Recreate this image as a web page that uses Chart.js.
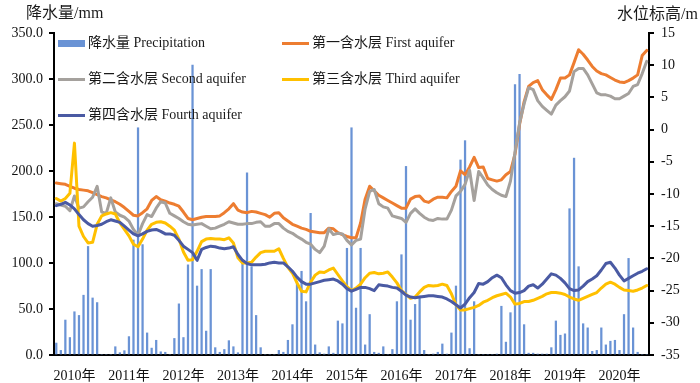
<!DOCTYPE html>
<html>
<head>
<meta charset="utf-8">
<script src="https://cdn.jsdelivr.net/npm/chart.js@4.4.1/dist/chart.umd.min.js"></script>
<style>
  html, body { margin: 0; padding: 0; background: #fff; }
  #wrap { position: relative; width: 700px; height: 383px; font-family: 'Liberation Serif', 'Noto Sans CJK SC', serif; color: #1a1a1a; }
  #c { position: absolute; left: 0; top: 0; }
  .ttl { position: absolute; font-size: 16px; line-height: 18px; white-space: nowrap; }
  .lg { position: absolute; font-size: 14px; line-height: 16px; white-space: nowrap; display: flex; align-items: center; }
  .sw { display: inline-block; width: 27px; margin-right: 3px; }
</style>
</head>
<body>
<div id="wrap">
  <canvas id="c" width="700" height="383"></canvas>
  <div class="ttl" style="left:26px; top:4px;">降水量/mm</div>
  <div class="ttl" style="right:2px; top:5px;">水位标高/m</div>
  <div id="legend"></div>
</div>
<script>
// ---- data (monthly, Jan 2010 – Nov 2020) ----
const years = ['2010', '2011', '2012', '2013', '2014', '2015', '2016', '2017', '2018', '2019', '2020'];
const yearLabels = ['2010年', '2011年', '2012年', '2013年', '2014年', '2015年', '2016年', '2017年', '2018年', '2019年', '2020年'];
const monthCount = 131;

const precipitation = [
  13, 5, 38, 19, 47, 43, 65, 118, 62, 57, 0, 0,
  0, 9, 2.5, 4.7, 20, 125, 247, 120, 24, 7.5, 16, 3.5,
  3, 0, 18, 55.6, 19, 98, 315, 75, 93, 26, 93, 8,
  3, 6, 15.6, 9, 2.5, 100, 198, 96, 43, 8, 0, 0,
  0, 5, 3, 16, 33, 80, 91, 58, 154, 11, 2.5, 1,
  9, 2, 37, 34, 116, 247, 51, 116, 11, 44, 3, 2,
  9, 0, 6, 58, 109, 205, 38, 55, 64, 5, 0, 1,
  3, 12, 1, 24, 75, 212, 233, 7, 58, 0, 0, 0,
  0, 1, 53, 14, 46, 294, 305, 33, 2, 2, 1, 1,
  1, 8, 37, 21.5, 23, 159, 214, 96, 34, 29.5, 4, 5,
  29.5, 11, 15, 16, 5, 44, 105, 29.5, 3, 0, 0
];

const firstAquifer = [
  -8.3, -8.4, -8.5, -8.8, -9.1, -9.3, -9.4, -9.5, -9.8, -10.1, -10.4, -10.6,
  -10.9, -11.2, -11.6, -12.1, -12.7, -13.3, -13.4, -12.9, -12.3, -11.0, -10.4, -10.9,
  -11.1, -11.4, -11.6, -11.9, -12.8, -13.8, -14.0, -13.8, -13.6, -13.5, -13.5, -13.5,
  -13.4, -12.9, -12.3, -11.5, -12.5, -12.8, -12.9, -12.7, -12.8, -13.0, -13.2, -13.6,
  -13.0, -12.9, -13.7, -14.2, -14.7, -15.0, -15.3, -15.5, -15.8, -15.9, -16.0, -16.0,
  -15.3, -15.4, -16.0, -16.3, -16.6, -16.8, -16.8, -14.5, -10.8, -8.8, -9.5, -10.2,
  -10.6, -11.0, -11.4, -11.8, -12.2, -12.2, -10.8, -10.4, -10.3, -11.1, -11.3, -10.8,
  -10.5, -10.5, -10.6, -9.6, -8.8, -6.4, -7.0, -5.8, -4.3, -5.9, -5.8, -7.6,
  -7.8, -8.0, -7.8, -7.0, -6.5, -3.8, 0.8, 4.3, 6.7, 7.3, 7.6, 6.2,
  5.4, 4.7, 6.2, 8.0, 8.0, 8.5, 10.4, 12.4, 11.7, 10.8, 9.8, 9.1,
  8.7, 8.5, 8.1, 7.7, 7.4, 7.3, 7.6, 8.0, 8.5, 11.5, 12.3
];

const secondAquifer = [
  -11.5, -11.7, -11.9, -12.6, -10.3, -12.2, -12.0, -11.2, -10.5, -8.8, -12.8, -13.0,
  -10.6, -12.8, -13.3, -13.6, -14.2, -15.5, -16.4, -14.6, -13.2, -13.5, -12.2, -11.2,
  -11.4, -13.0, -13.4, -13.8, -14.3, -14.7, -14.8, -14.7, -14.6, -15.0, -15.4, -15.3,
  -15.0, -14.7, -14.3, -14.5, -14.7, -14.7, -14.6, -14.6, -14.4, -14.3, -15.0, -15.0,
  -14.6, -14.6, -15.3, -15.8, -16.1, -16.6, -17.0, -17.5, -17.8, -18.6, -19.1, -18.1,
  -15.4, -16.3, -16.1, -16.2, -17.2, -17.9, -17.2, -17.0, -12.3, -9.6, -9.3, -11.5,
  -12.0, -12.2, -13.4, -13.6, -13.8, -14.4, -13.0, -12.3, -13.0, -13.6, -14.0, -14.1,
  -13.8, -13.9, -13.9, -12.5, -10.3, -9.6, -8.5, -6.3, -11.0, -6.5, -7.5, -8.6,
  -9.3, -9.8, -10.2, -10.4, -8.0, -3.5, 1.0, 4.0, 6.5, 6.2, 4.5, 3.6,
  3.0, 2.4, 3.8, 4.5, 5.1, 6.0, 9.0, 9.5, 9.5, 8.5, 7.1, 5.7,
  5.4, 5.4, 5.2, 4.8, 4.8, 5.2, 5.6, 6.7, 7.0, 8.7, 10.6
];

const thirdAquifer = [
  -10.7, -11.1, -10.7, -9.9, -2.1, -15.0, -16.6, -17.6, -17.5, -14.7, -13.4, -13.1,
  -12.9, -13.1, -14.5, -15.5, -16.5, -17.8, -18.2, -17.0, -15.6, -14.7, -14.4, -14.3,
  -14.5, -15.0, -15.6, -17.0, -19.0, -20.3, -20.2, -18.9, -17.4, -17.0, -16.9, -17.0,
  -17.0, -17.1, -16.8, -17.6, -19.9, -20.7, -20.7, -20.6, -19.8, -19.1, -18.9, -18.9,
  -18.9, -18.5, -20.0, -21.4, -22.3, -23.8, -25.1, -25.2, -23.7, -22.6, -22.1, -22.2,
  -21.8, -21.5, -22.5, -23.5, -24.4, -25.0, -24.6, -24.0, -23.0, -22.3, -22.2, -22.4,
  -22.3, -22.1, -22.9, -23.8, -25.0, -25.6, -26.2, -26.0, -25.2, -24.5, -24.2, -24.3,
  -24.2, -24.0, -24.2, -25.5, -27.2, -28.0, -28.0, -27.8, -27.6, -27.3, -26.8, -26.5,
  -26.1, -25.8, -25.6, -25.4, -26.0, -27.1, -27.0, -26.7, -26.7, -26.5, -26.2, -25.9,
  -25.5, -25.3, -25.3, -25.4, -25.6, -26.0, -26.3, -26.5, -26.2, -25.9, -25.6, -25.3,
  -24.6, -24.0, -23.7, -24.0, -24.5, -24.9, -25.0, -25.1, -24.9, -24.6, -24.2
];

const fourthAquifer = [
  -11.8, -11.6, -11.3, -11.7, -12.3, -13.2, -14.0, -14.6, -15.0, -14.9, -14.7, -14.3,
  -14.0, -14.2, -14.4, -15.0, -15.6, -16.2, -16.5, -16.2, -15.8, -15.6, -15.5, -15.8,
  -16.2, -16.2, -16.4, -17.2, -18.1, -18.6, -19.1, -20.3, -18.6, -18.3, -18.1, -18.2,
  -18.4, -18.5, -18.4, -18.2, -19.4, -20.3, -20.8, -21.0, -21.0, -21.0, -20.9, -20.7,
  -20.6, -20.7, -20.7, -21.3, -22.0, -22.9, -23.6, -24.0, -24.0, -23.8, -23.6, -23.4,
  -23.3, -23.2, -23.5, -24.0, -24.7, -25.1, -24.8, -24.5, -24.5, -24.7, -25.0, -24.1,
  -24.2, -24.3, -24.5, -24.6, -25.1, -25.7, -26.0, -26.1, -26.0, -25.9, -25.8, -25.8,
  -25.9, -26.0, -26.3, -26.7, -27.2, -27.7, -27.1, -26.1, -25.3, -23.9, -24.0, -23.6,
  -23.0, -22.6, -23.0, -24.1, -25.0, -25.4, -25.3, -25.0, -24.3, -24.1, -24.6, -24.0,
  -23.2, -22.4, -22.6, -23.1, -23.8, -24.7, -25.0, -24.9, -24.3, -23.6, -23.2, -22.7,
  -21.8, -20.8, -20.6, -21.5, -22.6, -23.5, -23.1, -22.7, -22.3, -22.0, -21.6
];

// category labels: one per month
const monthLabels = [];
for (let i = 0; i < monthCount; i++) {
  monthLabels.push(years[Math.floor(i / 12)] + '-' + String(i % 12 + 1).padStart(2, '0'));
}

const FONT = "'Liberation Serif', 'Noto Sans CJK SC', serif";
Chart.defaults.font.family = FONT;
Chart.defaults.font.size = 14;
Chart.defaults.color = '#111';

const series = [
  { label: '降水量 Precipitation', kind: 'bar', data: precipitation, color: '#6a93d5', lx: 58, ly: 43 },
  { label: '第一含水层 First aquifer', kind: 'line', data: firstAquifer, color: '#ed7d31', lx: 282, ly: 43 },
  { label: '第二含水层 Second aquifer', kind: 'line', data: secondAquifer, color: '#a5a19d', lx: 58, ly: 79 },
  { label: '第三含水层 Third aquifer', kind: 'line', data: thirdAquifer, color: '#ffc000', lx: 282, ly: 79 },
  { label: '第四含水层 Fourth aquifer', kind: 'line', data: fourthAquifer, color: '#4a5aa3', lx: 58, ly: 115 }
];

const datasets = series.map((s, k) => s.kind === 'bar' ? {
  type: 'bar', label: s.label, data: s.data, yAxisID: 'y',
  backgroundColor: s.color, barThickness: 1.6, order: 10
} : {
  type: 'line', label: s.label, data: s.data, yAxisID: 'y1',
  borderColor: s.color, borderWidth: 3, pointRadius: 0, tension: 0,
  fill: false, order: 6 - k, borderJoinStyle: 'round', borderCapStyle: 'round'
});

// HTML legend built from the series list
const lg = document.getElementById('legend');
series.forEach(s => {
  const d = document.createElement('div');
  d.className = 'lg';
  d.style.left = s.lx + 'px';
  d.style.top = (s.ly - 8) + 'px';
  const sw = document.createElement('span');
  sw.className = 'sw';
  sw.style.height = s.kind === 'bar' ? '7px' : '3px';
  sw.style.background = s.color;
  d.appendChild(sw);
  d.appendChild(document.createTextNode(s.label));
  lg.appendChild(d);
});

new Chart(document.getElementById('c'), {
  data: { labels: monthLabels, datasets },
  options: {
    responsive: false,
    animation: false,
    layout: { padding: { top: 33, left: 0, right: 0, bottom: 0 } },
    plugins: { legend: { display: false }, tooltip: { enabled: false } },
    scales: {
      x: {
        type: 'category', offset: true,
        grid: { display: false },
        border: { display: true, color: '#000', width: 2 },
        ticks: {
          autoSkip: false, maxRotation: 0, minRotation: 0, padding: 5,
          font: { size: 14, family: FONT }, color: '#111',
          callback: (v, i) => (i % 12 === 4 ? yearLabels[Math.floor(i / 12)] : '')
        },
        afterFit: s => { s.height = 28; }
      },
      y: {
        position: 'left', min: 0, max: 350,
        grid: { drawOnChartArea: false, drawTicks: true, tickLength: 5, color: '#000', lineWidth: 2 },
        border: { display: true, color: '#000', width: 2 },
        ticks: { stepSize: 50, padding: 6, callback: v => Number(v).toFixed(1), font: { size: 14, family: FONT }, color: '#111' },
        afterFit: s => { s.width = 54; }
      },
      y1: {
        position: 'right', min: -35, max: 15,
        grid: { drawOnChartArea: false, drawTicks: true, tickLength: 5, color: '#000', lineWidth: 2 },
        border: { display: true, color: '#000', width: 2 },
        ticks: { stepSize: 5, padding: 7, font: { size: 14, family: FONT }, color: '#111' },
        afterFit: s => { s.width = 51; }
      }
    }
  }
});
</script>
</body>
</html>
